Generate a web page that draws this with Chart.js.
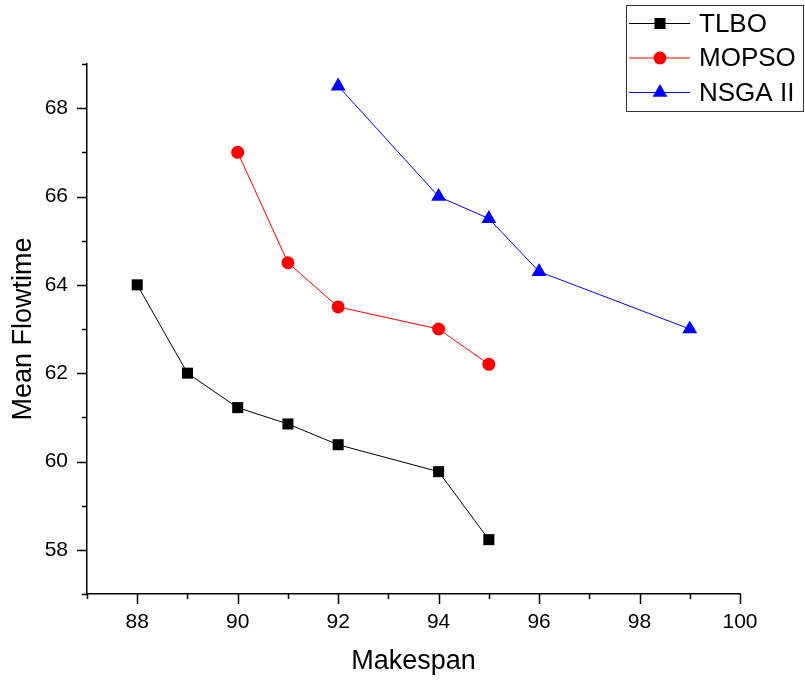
<!DOCTYPE html>
<html>
<head>
<meta charset="utf-8">
<script src="https://cdn.jsdelivr.net/npm/chart.js@4/dist/chart.umd.min.js"></script>
<style>
  html, body { margin: 0; padding: 0; background: #ffffff; }
  #wrap { width: 805px; height: 683px; }
</style>
</head>
<body>
<div id="wrap"><canvas id="c" width="805" height="683"></canvas></div>
<script>
// Pareto fronts: makespan vs. mean flowtime for each algorithm
const makespanTLBO  = [88, 89, 90, 91, 92, 94, 95];
const flowtimeTLBO  = [64.0, 62.0, 61.22, 60.85, 60.38, 59.77, 58.23];
const makespanMOPSO = [90, 91, 92, 94, 95];
const flowtimeMOPSO = [67.0, 64.5, 63.5, 63.0, 62.2];
const makespanNSGA  = [92, 94, 95, 96, 99];
const flowtimeNSGA  = [68.5, 66.0, 65.5, 64.3, 63.0];
const seriesNames   = ['TLBO', 'MOPSO', 'NSGA II'];
const xLimits = [87, 100];
const yLimits = [57, 69];

const FONT = "'Liberation Sans', Arial, Helvetica, sans-serif";
const AXIS_LEFT = 87, AXIS_BOTTOM_H = 89;

function pairs(xs, ys) { return xs.map((x, i) => ({ x: x, y: ys[i] })); }

const styles = [
  { color: '#000000', pointStyle: 'rect',     radius: 7.8 },
  { color: '#ff0000', pointStyle: 'circle',   radius: 6.5 },
  { color: '#0000ff', pointStyle: 'triangle', radius: 8.6 }
];
const seriesData = [
  pairs(makespanTLBO, flowtimeTLBO),
  pairs(makespanMOPSO, flowtimeMOPSO),
  pairs(makespanNSGA, flowtimeNSGA)
];

const datasets = seriesNames.map((name, i) => ({
  label: name,
  data: seriesData[i],
  showLine: true,
  borderColor: styles[i].color,
  backgroundColor: styles[i].color,
  borderWidth: 1,
  pointStyle: styles[i].pointStyle,
  pointRadius: styles[i].radius,
  pointHoverRadius: styles[i].radius,
  pointBorderWidth: 0,
  tension: 0
}));

// Major (labelled, every 2) and minor (every 1) tick marks pointing outward
const tickMarks = {
  id: 'tickMarks',
  afterDraw(chart) {
    const ctx = chart.ctx;
    const xs = chart.scales.x, ys = chart.scales.y;
    const area = chart.chartArea;
    ctx.save();
    ctx.strokeStyle = '#000';
    ctx.lineWidth = 1.5;
    ctx.beginPath();
    for (let v = xLimits[0]; v <= xLimits[1]; v++) {
      const px = Math.round(xs.getPixelForValue(v)) + 0.5;
      const len = v % 2 === 0 ? 10 : 5;
      ctx.moveTo(px, area.bottom);
      ctx.lineTo(px, area.bottom + len);
    }
    for (let v = yLimits[0]; v <= yLimits[1]; v++) {
      const py = Math.round(ys.getPixelForValue(v)) + 0.5;
      const len = v % 2 === 0 ? 10 : 5;
      ctx.moveTo(area.left, py);
      ctx.lineTo(area.left - len, py);
    }
    ctx.stroke();
    ctx.restore();
  }
};

// Boxed legend in the top-right corner: line through marker, then name
const boxedLegend = {
  id: 'boxedLegend',
  afterDraw(chart) {
    const ctx = chart.ctx;
    const box = { x: 626.5, y: 5.5, w: 177, h: 106 };
    ctx.save();
    ctx.fillStyle = '#ffffff';
    ctx.fillRect(box.x, box.y, box.w, box.h);
    ctx.strokeStyle = '#333333';
    ctx.lineWidth = 1;
    ctx.strokeRect(box.x, box.y, box.w, box.h);
    const rowY = [23.5, 58, 92.5];
    chart.data.datasets.forEach((ds, i) => {
      const y = rowY[i];
      ctx.strokeStyle = ds.borderColor;
      ctx.lineWidth = 1;
      ctx.beginPath();
      ctx.moveTo(629, y);
      ctx.lineTo(690, y);
      ctx.stroke();
      ctx.fillStyle = ds.backgroundColor;
      Chart.helpers.drawPoint(ctx, {
        pointStyle: ds.pointStyle, radius: ds.pointRadius, rotation: 0, borderWidth: 0
      }, 660, y);
      ctx.fillStyle = '#000';
      ctx.font = '26px ' + FONT;
      ctx.textBaseline = 'middle';
      ctx.textAlign = 'left';
      ctx.fillText(ds.label, 699, y + 1);
    });
    ctx.restore();
  }
};

new Chart(document.getElementById('c'), {
  type: 'scatter',
  data: { datasets: datasets },
  plugins: [tickMarks, boxedLegend],
  options: {
    responsive: false,
    animation: false,
    devicePixelRatio: 1,
    layout: { padding: { top: 64, right: 65, left: 0, bottom: 0 } },
    plugins: { legend: { display: false }, tooltip: { enabled: false } },
    scales: {
      x: {
        type: 'linear',
        min: xLimits[0], max: xLimits[1],
        afterFit(scale) { scale.height = AXIS_BOTTOM_H; },
        grid: { drawOnChartArea: false, drawTicks: false },
        border: { display: true, color: '#000', width: 1.5 },
        ticks: {
          stepSize: 1, autoSkip: false, maxRotation: 0, padding: 16,
          color: '#000', font: { family: FONT, size: 21 },
          callback: v => (v % 2 === 0 ? String(v) : '')
        },
        title: {
          display: true, text: 'Makespan', color: '#000',
          font: { family: FONT, size: 27 }, padding: { top: 0, bottom: 5 }
        }
      },
      y: {
        type: 'linear',
        min: yLimits[0], max: yLimits[1],
        afterFit(scale) { scale.width = AXIS_LEFT; },
        grid: { drawOnChartArea: false, drawTicks: false },
        border: { display: true, color: '#000', width: 1.5 },
        ticks: {
          stepSize: 1, autoSkip: false, padding: 19,
          color: '#000', font: { family: FONT, size: 21 },
          callback: v => (v % 2 === 0 ? String(v) : '')
        },
        title: {
          display: true, text: 'Mean Flowtime', color: '#000',
          font: { family: FONT, size: 27 }, padding: { top: 7, bottom: 0 }
        }
      }
    }
  }
});
</script>
</body>
</html>
